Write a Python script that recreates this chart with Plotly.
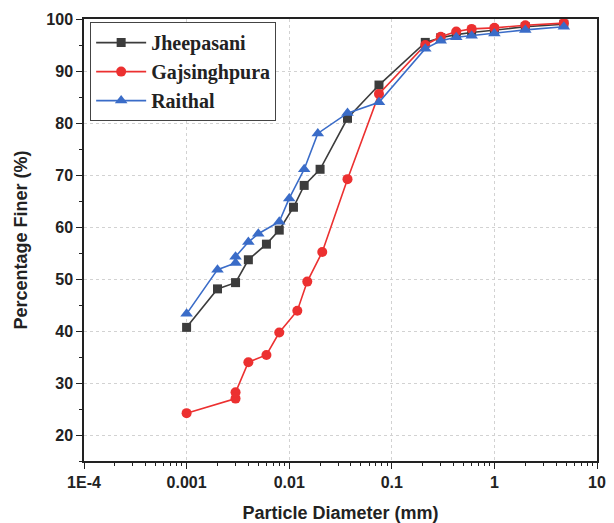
import plotly.graph_objects as go

# Jheepasani
jh_x = [0.001, 0.002, 0.003, 0.004, 0.006, 0.008, 0.011, 0.014, 0.020, 0.037, 0.075, 0.212, 0.3, 0.425, 0.6, 1, 2, 4.75]
jh_y = [40.7, 48.1, 49.3, 53.7, 56.7, 59.4, 63.8, 68.0, 71.1, 80.9, 87.3, 95.5, 96.4, 97.0, 97.4, 97.9, 98.5, 99.0]

# Gajsinghpura
gj_x = [0.001, 0.003, 0.003, 0.004, 0.006, 0.008, 0.012, 0.015, 0.021, 0.037, 0.075, 0.212, 0.3, 0.425, 0.6, 1, 2, 4.75]
gj_y = [24.2, 27.0, 28.2, 34.0, 35.4, 39.7, 43.9, 49.5, 55.2, 69.2, 85.6, 95.0, 96.6, 97.6, 98.1, 98.3, 98.8, 99.2]

# Raithal
ra_x = [0.001, 0.002, 0.003, 0.003, 0.004, 0.005, 0.008, 0.010, 0.014, 0.019, 0.037, 0.075, 0.212, 0.3, 0.425, 0.6, 1, 2, 4.75]
ra_y = [43.3, 51.8, 53.1, 54.3, 57.1, 58.7, 61.0, 65.5, 71.1, 78.0, 81.9, 84.0, 94.3, 95.8, 96.5, 96.8, 97.2, 97.9, 98.5]

x_tickvals = [0.0001, 0.001, 0.01, 0.1, 1, 10]
x_ticktext = ["1E-4", "0.001", "0.01", "0.1", "1", "10"]
y_tickvals = [20, 30, 40, 50, 60, 70, 80, 90, 100]
y_ticktext = ["20", "30", "40", "50", "60", "70", "80", "90", "100"]

x_minor = [m * d for d in [0.0001, 0.001, 0.01, 0.1, 1] for m in range(2, 10)]

fig = go.Figure()
fig.add_trace(go.Scatter(x=jh_x, y=jh_y, name="<b>Jheepasani</b>", mode="lines+markers",
                         line=dict(color="#3c3c3c", width=1.6),
                         marker=dict(symbol="square", size=9, color="#3c3c3c")))
fig.add_trace(go.Scatter(x=gj_x, y=gj_y, name="<b>Gajsinghpura</b>", mode="lines+markers",
                         line=dict(color="#ec3030", width=1.6),
                         marker=dict(symbol="circle", size=10, color="#ec3030")))
fig.add_trace(go.Scatter(x=ra_x, y=ra_y, name="<b>Raithal</b>", mode="lines+markers",
                         line=dict(color="#3a6cc8", width=1.6),
                         marker=dict(symbol="triangle-up", size=11, color="#3a6cc8")))

axis_font = dict(family="Liberation Sans, Arial", size=16, color="#222")
title_font = dict(family="Liberation Sans, Arial", size=18, color="#222")
fig.update_layout(
    width=606, height=515,
    margin=dict(l=76, r=17, t=11, b=62),
    paper_bgcolor="white", plot_bgcolor="white",
    legend=dict(x=0.012, y=0.993, xanchor="left", yanchor="top",
                bgcolor="white", bordercolor="#444", borderwidth=1,
                font=dict(family="Liberation Serif, Times New Roman", size=20, color="#222"),
                itemwidth=50, tracegroupgap=0),
    xaxis=dict(type="log", range=[-4, 1], tickmode="array",
               tickvals=x_tickvals, ticktext=["<b>%s</b>" % t for t in x_ticktext],
               showline=True, linecolor="#222", linewidth=1.5, mirror=True,
               ticks="outside", ticklen=6, tickwidth=1.2, tickcolor="#222",
               showgrid=True, gridcolor="#d2d2d2", griddash="dot", gridwidth=1,
               tickfont=axis_font, zeroline=False, automargin=False,
               minor=dict(tickmode="array", tickvals=x_minor, ticks="outside", ticklen=3,
                          tickcolor="#222", showgrid=False),
               title=dict(text="<b>Particle Diameter (mm)</b>", standoff=16, font=title_font)),
    yaxis=dict(range=[15, 100], tickmode="array",
               tickvals=y_tickvals, ticktext=["<b>%s</b>" % t for t in y_ticktext],
               showline=True, linecolor="#222", linewidth=1.5, mirror=True,
               ticks="outside", ticklen=6, tickwidth=1.2, tickcolor="#222",
               showgrid=True, gridcolor="#d2d2d2", griddash="dot", gridwidth=1,
               tickfont=axis_font, zeroline=False, automargin=False,
               minor=dict(ticks="outside", ticklen=3, tickcolor="#222", dtick=5, showgrid=False),
               title=dict(text="<b>Percentage Finer (%)</b>", standoff=14, font=title_font)),
)

fig.write_html("out.html")
